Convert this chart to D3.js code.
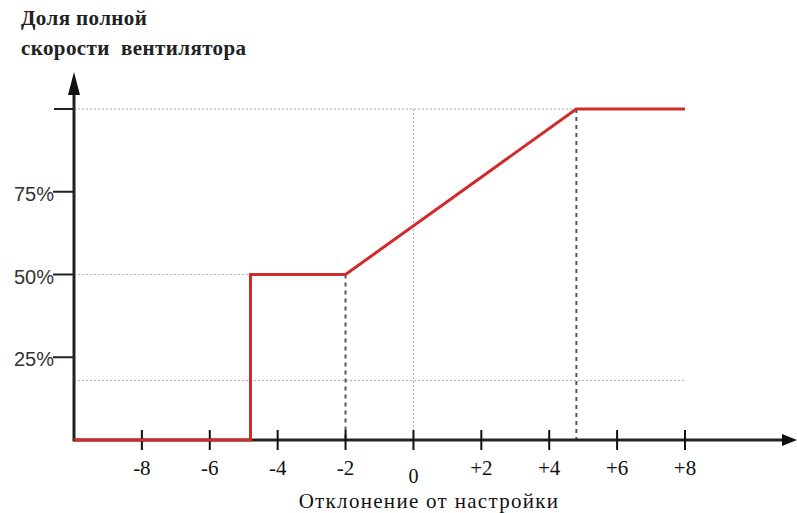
<!DOCTYPE html>
<html><head><meta charset="utf-8">
<script src="https://cdn.jsdelivr.net/npm/d3@7"></script>
<style>body{margin:0;background:#fff}svg{display:block}</style>
</head><body>
<svg id="c" width="797" height="513"></svg>
<script>
// ---- data ----
const xTicks = [-8, -6, -4, -2, 0, 2, 4, 6, 8];
const xTickLabels = ["-8", "-6", "-4", "-2", "0", "+2", "+4", "+6", "+8"];
const yTicks = [25, 50, 75, 100];
const yTickLabels = ["25%", "50%", "75%", ""];
const fanX = [-10, -4.8, -4.8, -2, 4.8, 8];
const fanY = [0, 0, 50, 50, 100, 100];
const gridLevels = [100, 18];
const dashedX = [-2, 4.8];
const yTitle = ["Доля полной", "скорости  вентилятора"];
const xTitle = "Отклонение от настройки";

// ---- layout ----
const svg = d3.select("#c");
const x = d3.scaleLinear().domain([-10, 11.3]).range([74, 797]);
const y = d3.scaleLinear().domain([0, 100]).range([440, 109]);
const serif = "'Liberation Serif','Times New Roman',serif";
const sans = "'Liberation Sans',Arial,sans-serif";

// grid
const g = svg.append("g");
gridLevels.forEach(v => {
  g.append("line").attr("x1", x(-10)).attr("x2", x(8)).attr("y1", y(v)).attr("y2", y(v))
    .attr("stroke", "#aaa").attr("stroke-width", 1).attr("stroke-dasharray", "2,2");
});
g.append("line").attr("x1", x(-10)).attr("x2", x(-4.8)).attr("y1", y(50)).attr("y2", y(50))
  .attr("stroke", "#bbb").attr("stroke-width", 1).attr("stroke-dasharray", "2,2");
g.append("line").attr("x1", x(0)).attr("x2", x(0)).attr("y1", y(100)).attr("y2", y(0))
  .attr("stroke", "#aaa").attr("stroke-width", 1).attr("stroke-dasharray", "2,2");

// dashed drops
dashedX.forEach((v, i) => {
  const top = i === 0 ? 50 : 100;
  g.append("line").attr("x1", x(v)).attr("x2", x(v)).attr("y1", y(top)).attr("y2", y(0))
    .attr("stroke", "#555").attr("stroke-width", 2).attr("stroke-dasharray", "4,4");
});

// axes
const ax = svg.append("g");
ax.append("line").attr("x1", x(-10)).attr("x2", 790).attr("y1", y(0)).attr("y2", y(0))
  .attr("stroke", "#222").attr("stroke-width", 3);
ax.append("path").attr("d", `M797,${y(0)} L782,${y(0) - 6} L782,${y(0) + 6} Z`).attr("fill", "#111");
ax.append("line").attr("x1", x(-10)).attr("x2", x(-10)).attr("y1", y(0) + 1.5).attr("y2", 85)
  .attr("stroke", "#222").attr("stroke-width", 3);
ax.append("path").attr("d", `M${x(-10)},72 L${x(-10) - 6},95 L${x(-10) + 6},95 Z`).attr("fill", "#111");

// x ticks
xTicks.forEach((v, i) => {
  ax.append("line").attr("x1", x(v)).attr("x2", x(v)).attr("y1", y(0) - 10).attr("y2", y(0) + 10)
    .attr("stroke", "#111").attr("stroke-width", 2);
  ax.append("text").attr("x", x(v)).attr("y", y(0) + (v === 0 ? 43 : 35))
    .attr("text-anchor", "middle").attr("font-family", serif).attr("font-size", v === 0 ? 20 : 21)
    .attr("fill", "#111").text(xTickLabels[i]);
});

// y ticks
yTicks.forEach((v, i) => {
  ax.append("line").attr("x1", v === 100 ? x(-10) - 20 : x(-10) - 21).attr("x2", x(-10))
    .attr("y1", y(v)).attr("y2", y(v)).attr("stroke", "#222").attr("stroke-width", 2);
  ax.append("text").attr("x", x(-10) - 20).attr("y", y(v) + 9)
    .attr("text-anchor", "end").attr("font-family", sans).attr("font-size", 20)
    .attr("fill", "#333").text(yTickLabels[i]);
});

// fan curve
const line = d3.line().x(d => x(d[0])).y(d => y(d[1]));
svg.append("path").datum(fanX.map((v, i) => [v, fanY[i]]))
  .attr("d", line).attr("fill", "none").attr("stroke", "#d42a2a").attr("stroke-width", 3);

// titles
yTitle.forEach((t, i) => {
  svg.append("text").attr("x", 21).attr("y", 25 + i * 30).attr("font-family", serif)
    .attr("font-size", 21).attr("font-weight", "bold").attr("letter-spacing", 0.4)
    .attr("fill", "#222").style("white-space", "pre").text(t);
});
svg.append("text").attr("x", 429).attr("y", 508).attr("text-anchor", "middle")
  .attr("font-family", serif).attr("font-size", 21).attr("letter-spacing", 1.3)
  .attr("fill", "#111").text(xTitle);
</script>
</body></html>
